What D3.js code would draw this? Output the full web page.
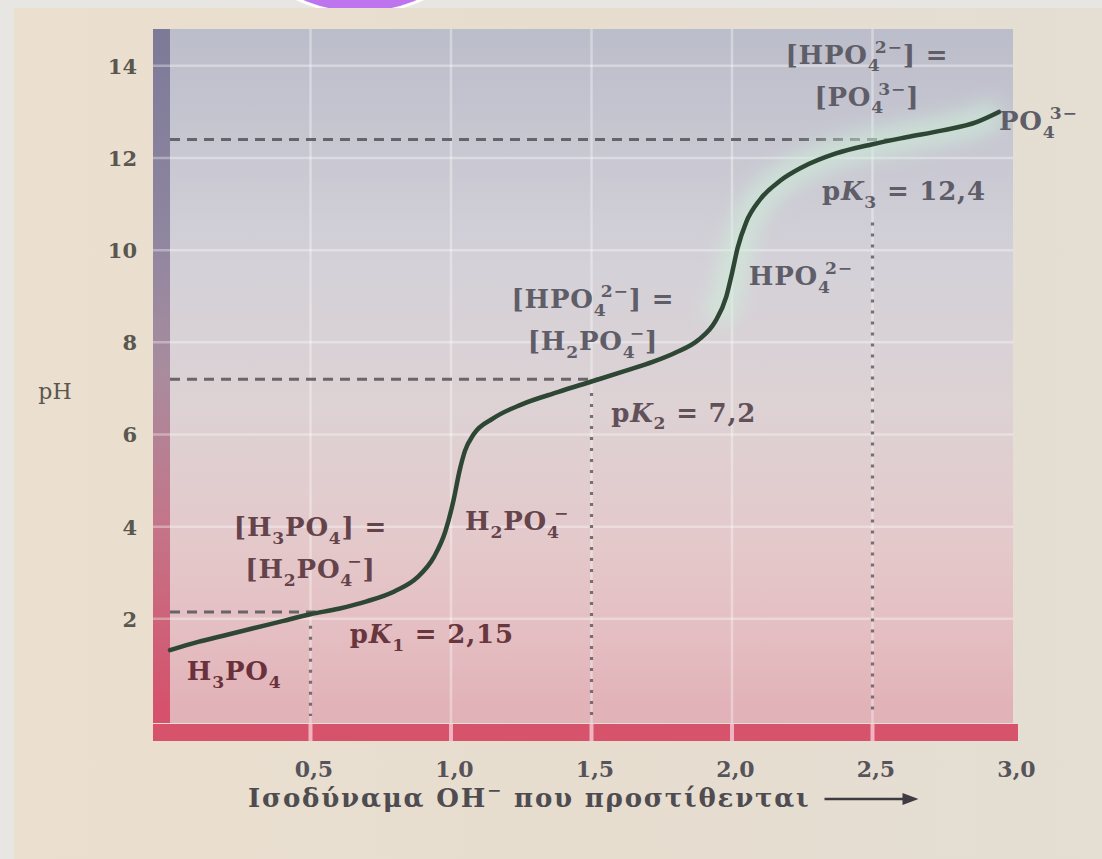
<!DOCTYPE html>
<html>
<head>
<meta charset="utf-8">
<script src="https://cdn.jsdelivr.net/npm/d3@7"></script>
<style>
  html, body { margin: 0; padding: 0; background: #e8e6e3; }
  svg { display: block; }
</style>
</head>
<body>
<svg id="chart" width="1102" height="859"></svg>
<script>
// Titration of H3PO4 with OH−: equivalents of base added vs. pH
const equivalents = [0, 0.1, 0.2, 0.3, 0.4, 0.5, 0.6, 0.7, 0.8, 0.88, 0.94, 0.98, 1.01, 1.03, 1.05, 1.08,
  1.15, 1.25, 1.38, 1.5, 1.62, 1.72, 1.8, 1.88, 1.94, 1.98, 2.0, 2.02, 2.05, 2.1, 2.17, 2.25, 2.37,
  2.5, 2.62, 2.75, 2.87, 2.95];
const phValues = [1.32, 1.5, 1.65, 1.8, 1.95, 2.1, 2.22, 2.38, 2.6, 2.9, 3.35, 3.9, 4.6, 5.2, 5.65, 6.0,
  6.35, 6.65, 6.92, 7.15, 7.38, 7.58, 7.78, 8.05, 8.45, 9.0, 9.5, 10.05, 10.6, 11.1, 11.5, 11.8, 12.1,
  12.3, 12.45, 12.6, 12.78, 13.0];

const xTickValues = [0.5, 1.0, 1.5, 2.0, 2.5, 3.0];
const xTickLabels = ["0,5", "1,0", "1,5", "2,0", "2,5", "3,0"];
const yTickValues = [2, 4, 6, 8, 10, 12, 14];
const yTickLabels = ["2", "4", "6", "8", "10", "12", "14"];

// pKa values, the equivalents at which they are read, and their labels
const pKaValues = [2.15, 7.2, 12.4];
const pKaEquivalents = [0.5, 1.5, 2.5];
const pKaLabels = ["p*K*_{1} = 2,15", "p*K*_{2} = 7,2", "p*K*_{3} = 12,4"];

const xAxisTitle = "Ισοδύναμα OH^{−} που προστίθενται";
const yAxisTitle = "pH";

// Species and equality notes, anchored in data units (equivalents, pH)
const annotations = [
  { lines: ["[H_{3}PO_{4}] =", "[H_{2}PO_{4}^{−}]"], eq: 0.50, ph: 3.80, anchor: "middle" },
  { lines: ["H_{3}PO_{4}"], eq: 0.06, ph: 0.67, anchor: "start" },
  { lines: ["H_{2}PO_{4}^{−}"], eq: 1.05, ph: 3.93, anchor: "start" },
  { lines: ["[HPO_{4}^{2−}] =", "[H_{2}PO_{4}^{−}]"], eq: 1.505, ph: 8.75, anchor: "middle" },
  { lines: ["HPO_{4}^{2−}"], eq: 2.06, ph: 9.25, anchor: "start" },
  { lines: ["[HPO_{4}^{2−}] =", "[PO_{4}^{3−}]"], eq: 2.48, ph: 14.05, anchor: "middle" },
  { lines: ["PO_{4}^{3−}"], eq: 2.95, ph: 12.61, anchor: "start" }
];
const pKaLabelAnchors = [
  { eq: 0.64, ph: 1.48 },
  { eq: 1.57, ph: 6.28 },
  { eq: 2.32, ph: 11.09 }
];

const W = 1102, H = 859;
const svg = d3.select("#chart");
const defs = svg.append("defs");

const x = d3.scaleLinear().domain([0, 3]).range([170, 1013]);
const y = d3.scaleLinear().domain([0, 14.8]).range([711, 29]);

const SERIF = "'DejaVu Serif', 'Liberation Serif', serif";

// ---- page and paper -------------------------------------------------
svg.append("rect").attr("width", W).attr("height", H).attr("fill", "#e8e6e3");
svg.append("circle").attr("cx", 360).attr("cy", -135).attr("r", 148)
  .attr("fill", "#bd74ee").attr("stroke", "#ffffff").attr("stroke-width", 3);

const paper = defs.append("linearGradient").attr("id", "paper")
  .attr("x1", 0).attr("x2", 1).attr("y1", 0).attr("y2", 0);
paper.append("stop").attr("offset", 0).attr("stop-color", "#ebe0cf");
paper.append("stop").attr("offset", 0.5).attr("stop-color", "#e7ddcf");
paper.append("stop").attr("offset", 1).attr("stop-color", "#e4ded3");
svg.append("rect").attr("x", 14).attr("y", 8).attr("width", W - 14).attr("height", H - 8)
  .attr("fill", "url(#paper)");

// ---- plot field ------------------------------------------------------
const field = defs.append("linearGradient").attr("id", "field")
  .attr("gradientUnits", "userSpaceOnUse")
  .attr("x1", 0).attr("x2", 0).attr("y1", y(14.8)).attr("y2", y(0));
[[0, "#bcbdca"], [0.15, "#c6c6d1"], [0.35, "#d4d1d8"], [0.55, "#ddd2d4"],
 [0.75, "#e4c9cb"], [0.9, "#e4bdc1"], [1, "#e1b2b8"]]
  .forEach(([o, c]) => field.append("stop").attr("offset", o).attr("stop-color", c));

const rail = defs.append("linearGradient").attr("id", "rail")
  .attr("gradientUnits", "userSpaceOnUse")
  .attr("x1", 0).attr("x2", 0).attr("y1", y(14.8)).attr("y2", y(0));
[[0, "#7c7a98"], [0.3, "#8f86a0"], [0.5, "#a88c9e"], [0.72, "#c37689"], [1, "#d6516c"]]
  .forEach(([o, c]) => rail.append("stop").attr("offset", o).attr("stop-color", c));

svg.append("rect")
  .attr("x", x(0)).attr("y", y(14.8))
  .attr("width", x(3) - x(0)).attr("height", y(0) + 12 - y(14.8))
  .attr("fill", "url(#field)");

// left colour rail
svg.append("rect")
  .attr("x", x(0) - 17).attr("y", y(14.8))
  .attr("width", 17).attr("height", y(0) + 12 - y(14.8))
  .attr("fill", "url(#rail)");

// bottom colour bar
svg.append("rect")
  .attr("x", x(0) - 17).attr("y", y(0) + 13)
  .attr("width", x(3) + 5 - (x(0) - 17)).attr("height", 17)
  .attr("fill", "#d7536c");

// faint white grid (runs across the rail and the bottom bar)
const grid = svg.append("g").attr("stroke", "#ffffff");
grid.selectAll("line.h").data(yTickValues).join("line")
  .attr("x1", x(0) - 17).attr("x2", x(3))
  .attr("y1", d => y(d)).attr("y2", d => y(d))
  .attr("stroke-width", 2.5).attr("stroke-opacity", 0.35);
grid.selectAll("line.v").data(xTickValues.slice(0, 5)).join("line")
  .attr("x1", d => x(d)).attr("x2", d => x(d))
  .attr("y1", y(14.8)).attr("y2", y(0) + 12)
  .attr("stroke-width", 2.5).attr("stroke-opacity", 0.35);
// light breaks where the grid crosses the bottom bar
grid.selectAll("line.gap").data(xTickValues.slice(0, 5)).join("line")
  .attr("x1", d => x(d)).attr("x2", d => x(d))
  .attr("y1", y(0) + 13).attr("y2", y(0) + 30)
  .attr("stroke", "#f4c6cf").attr("stroke-width", 4).attr("stroke-opacity", 0.85);

// ---- reference lines at the pKa points -------------------------------
const curvePts = equivalents.map((e, i) => [e, phValues[i]]);
function firstEqAt(ph) {
  for (let i = 1; i < curvePts.length; i++) {
    const [e0, p0] = curvePts[i - 1], [e1, p1] = curvePts[i];
    if (p0 <= ph && p1 >= ph) return e0 + (ph - p0) / (p1 - p0) * (e1 - e0);
  }
  return 3;
}

const refs = svg.append("g").attr("fill", "none");
refs.selectAll("line.dash").data(pKaValues).join("line")
  .attr("x1", x(0)).attr("x2", d => x(firstEqAt(d)))
  .attr("y1", d => y(d)).attr("y2", d => y(d))
  .attr("stroke", "#555257").attr("stroke-width", 3)
  .attr("stroke-dasharray", "10 7").attr("stroke-opacity", 0.85);

const dottedTop = [1.85, 6.9, 10.6];
refs.selectAll("line.dot").data(pKaEquivalents).join("line")
  .attr("x1", d => x(d)).attr("x2", d => x(d))
  .attr("y1", (d, i) => y(dottedTop[i])).attr("y2", y(0) + 5)
  .attr("stroke", "#5a5458").attr("stroke-width", 3.2)
  .attr("stroke-dasharray", "3 8").attr("stroke-opacity", 0.8);

// ---- titration curve -------------------------------------------------
const line = d3.line().x(d => x(d[0])).y(d => y(d[1])).curve(d3.curveMonotoneX);

const glow = defs.append("filter").attr("id", "glow")
  .attr("x", "-20%").attr("y", "-20%").attr("width", "140%").attr("height", "140%");
glow.append("feGaussianBlur").attr("stdDeviation", 9);
svg.append("path")
  .datum(curvePts.filter(d => d[0] >= 1.9))
  .attr("d", line).attr("fill", "none")
  .attr("stroke", "#cfeed8").attr("stroke-width", 30).attr("stroke-opacity", 0.6)
  .attr("filter", "url(#glow)");

svg.append("path")
  .datum(curvePts)
  .attr("d", line).attr("fill", "none")
  .attr("stroke", "#2e4634").attr("stroke-width", 4.5)
  .attr("stroke-linecap", "round");

// ---- text helpers ----------------------------------------------------
function rich(textSel, str, size) {
  const parts = str.split(/(_\{[^}]*\}|\^\{[^}]*\}|\*[^*]+\*)/).filter(s => s.length);
  let shift = 0, lastSub = null;
  parts.forEach(p => {
    let kind = "n", t = p;
    if (p.startsWith("_{")) { kind = "sub"; t = p.slice(2, -1); }
    else if (p.startsWith("^{")) { kind = "sup"; t = p.slice(2, -1); }
    else if (p.length > 2 && p.startsWith("*") && p.endsWith("*")) { kind = "it"; t = p.slice(1, -1); }
    const target = kind === "sub" ? size * 0.3 : kind === "sup" ? -size * 0.42 : 0;
    const ts = textSel.append("tspan").text(t);
    if (target - shift !== 0) ts.attr("dy", target - shift);
    shift = target;
    if (kind === "sub" || kind === "sup") ts.attr("font-size", size * 0.66);
    if (kind === "it") ts.attr("font-style", "italic");
    if (kind === "sup" && lastSub) ts.attr("dx", -lastSub.node().getComputedTextLength() * 0.45);
    lastSub = kind === "sub" ? ts : null;
  });
}
const inkFor = ph => d3.interpolateRgb("#6a2f36", "#5f5e68")(Math.min(1, ph / 9));

// ---- annotations -----------------------------------------------------
const LABEL_SIZE = 26, LINE_GAP = 42;
const notes = svg.append("g").attr("font-family", SERIF).attr("font-weight", "bold")
  .attr("letter-spacing", 0.8);
annotations.forEach(a => {
  a.lines.forEach((ln, i) => {
    const t = notes.append("text")
      .attr("x", x(a.eq)).attr("y", y(a.ph) + i * LINE_GAP)
      .attr("text-anchor", a.anchor)
      .attr("font-size", LABEL_SIZE)
      .attr("fill", inkFor(a.ph));
    rich(t, ln, LABEL_SIZE);
  });
});
pKaLabels.forEach((lab, i) => {
  const a = pKaLabelAnchors[i];
  const t = notes.append("text")
    .attr("x", x(a.eq)).attr("y", y(a.ph))
    .attr("font-size", LABEL_SIZE)
    .attr("fill", inkFor(a.ph));
  rich(t, lab, LABEL_SIZE);
});

// ---- axes ------------------------------------------------------------
const xAxis = d3.axisBottom(x).tickValues(xTickValues)
  .tickFormat((d, i) => xTickLabels[i]).tickSize(0).tickPadding(0);
const gx = svg.append("g").attr("transform", `translate(3, ${y(0) + 66})`).call(xAxis);
gx.select(".domain").remove();
gx.selectAll("text").attr("font-family", SERIF).attr("font-weight", "bold")
  .attr("font-size", 22).attr("fill", "#56545a").attr("dy", 0);

const yAxis = d3.axisLeft(y).tickValues(yTickValues)
  .tickFormat((d, i) => yTickLabels[i]).tickSize(0).tickPadding(0);
const gy = svg.append("g").attr("transform", `translate(${x(0) - 33}, 0)`).call(yAxis);
gy.select(".domain").remove();
gy.selectAll("text").attr("font-family", SERIF).attr("font-weight", "bold")
  .attr("font-size", 21).attr("fill", "#5a5650").attr("dy", "0.35em");

// axis titles
const xt = svg.append("text")
  .attr("x", 248).attr("y", y(0) + 96)
  .attr("font-family", SERIF).attr("font-weight", "bold").attr("font-size", 26)
  .attr("letter-spacing", 1.8)
  .attr("fill", "#4e4c50");
rich(xt, xAxisTitle, 26);
const titleEnd = 248 + xt.node().getComputedTextLength() + 14;
svg.append("line")
  .attr("x1", titleEnd).attr("x2", titleEnd + 80)
  .attr("y1", y(0) + 88).attr("y2", y(0) + 88)
  .attr("stroke", "#3e3c40").attr("stroke-width", 2.5);
svg.append("path")
  .attr("d", `M${titleEnd + 94},${y(0) + 88} l-16,-6 l0,12 z`)
  .attr("fill", "#3e3c40");

svg.append("text")
  .attr("x", 55).attr("y", 399)
  .attr("text-anchor", "middle")
  .attr("font-family", SERIF).attr("font-size", 22)
  .attr("fill", "#5a5650")
  .text(yAxisTitle);
</script>
</body>
</html>
